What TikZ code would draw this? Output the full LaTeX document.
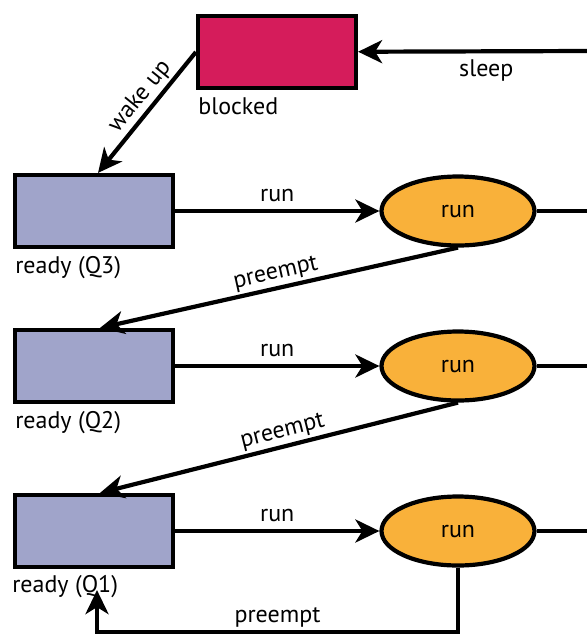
\documentclass[tikz,border=0pt]{standalone}
\usepackage{fontspec}
\setmainfont{PT Sans}
\usepackage{tikz}
\usetikzlibrary{shapes.geometric, arrows.meta}
\usetikzlibrary{calc}
\definecolor{blockedred}{HTML}{D51C5B}
\definecolor{readyblue}{HTML}{A0A4CA}
\definecolor{runorange}{HTML}{F9B13A}
\tikzstyle{queue} = [rectangle, minimum width=79pt, minimum height=36pt, draw=black, line width=2.1pt, fill=readyblue]
\tikzstyle{wait} = [queue, fill=blockedred]
\tikzstyle{cpu} = [ellipse, minimum width=76.5pt, minimum height=34.5pt, text centered, draw=black, line width=2.1pt, fill=runorange]
\tikzstyle{tag} = [anchor=north west, inner sep=0pt]
\tikzstyle{edgetext} = [inner sep=1.2pt]
\tikzstyle{arrow} = [line width=2.1pt,->,>={Stealth[length=12pt,width=11.5pt,inset=3.5pt]}]
\tikzstyle{line} = [line width=2.1pt]

\begin{document}
\begin{tikzpicture}[node distance=77.5pt, font=\fontsize{12}{14}\selectfont]
\useasboundingbox (0,0) rectangle (293.5pt,-317pt);
\node (q3) [queue] at (47pt,-105.5pt) {};
\node (q2) [queue, below of=q3] {};
\node (q1) [queue, below of=q2, node distance=82.5pt] {};
\node (blocked) [wait, above of=q3, node distance=79.5pt, xshift=91.5pt] {};
\node (run3) [cpu, right of=q3, node distance=182pt] {run};
\node (run2) [cpu, right of=q2, node distance=182pt] {run};
\node (run1) [cpu, right of=q1, node distance=182pt] {run};
\node (q3tag) [tag] at ([shift={(1pt,-3.5pt)}]q3.south west) {ready (Q3)};
\node (q2tag) [tag] at ([shift={(1pt,-3.5pt)}]q2.south west) {ready (Q2)};
\node (q1tag) [tag] at ([shift={(-0.5pt,-3pt)}]q1.south west) {ready (Q1)};
\node (blockedtag) [tag] at ([shift={(1pt,-3.5pt)}]blocked.south west) {blocked};
\coordinate (sleepin) at (293.5pt,-25.5pt);
\coordinate (out3) at (run3.east -| sleepin);
\coordinate (out2) at (run2.east -| sleepin);
\coordinate (out1) at (run1.east -| sleepin);
\coordinate (bottom) at ($(run1.south)+(0,-32pt)$);
\coordinate (back) at ($(q1.south)+(1.5pt,-10.5pt)$);
\draw [arrow] (sleepin) -- node[pos=0.44, below] {sleep} (blocked);
\draw [arrow] (blocked.west) -- node[pos=0.45, above, sloped, edgetext] {wake up} ([xshift=2pt]q3.north);
\draw [arrow] (q3) -- node[above] {run} (run3);
\draw [arrow] (q2) -- node[above] {run} (run2);
\draw [arrow] (q1) -- node[above] {run} (run1);
\draw [line] (run3) -- (out3);
\draw [line] (run2) -- (out2);
\draw [line] (run1) -- (out1);
\draw [arrow] (run3.south) -- node[midway, above, sloped, edgetext] {preempt} ([xshift=3pt]q2.north);
\draw [arrow] (run2.south) -- node[pos=0.48, above, sloped, edgetext] {preempt} ([xshift=3pt]q1.north);
\draw [arrow] (run1.south) -- (bottom) -| node[pos=0.25, above, edgetext] {preempt} (back);
\end{tikzpicture}
\end{document}
